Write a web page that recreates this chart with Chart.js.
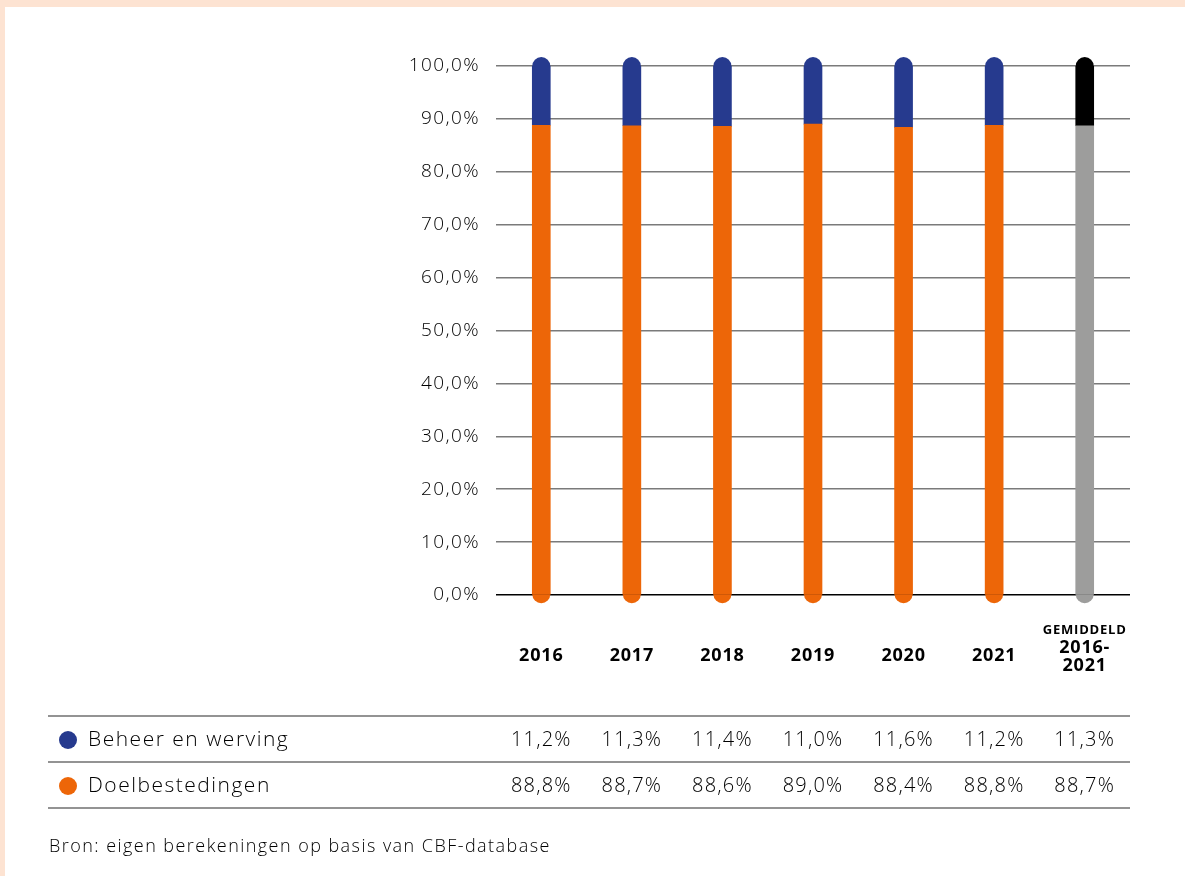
<!DOCTYPE html>
<html lang="nl">
<head>
<meta charset="utf-8">
<title>Beheer en werving vs doelbestedingen</title>
<script src="https://cdn.jsdelivr.net/npm/chart.js@4.4.1/dist/chart.umd.min.js"></script>
<style>
  html, body { margin: 0; padding: 0; }
  body { width: 1185px; height: 876px; background: #fde3d2; overflow: hidden; position: relative; }
  #panel { position: absolute; left: 5px; top: 7px; right: 0; bottom: 0; background: #fff; }
  #wrap { position: absolute; left: 0; top: 0; width: 1185px; height: 876px; }
</style>
</head>
<body>
<div id="panel"></div>
<div id="wrap"><canvas id="chart"></canvas></div>
<script>
// kolommen (jaren + gemiddelde)
const categories = ['2016', '2017', '2018', '2019', '2020', '2021', 'Gemiddeld 2016-2021'];
const xLabelLines = [['2016'], ['2017'], ['2018'], ['2019'], ['2020'], ['2021'], ['2016-', '2021']];
const avgCaption = 'GEMIDDELD';

// percentages per reeks
const seriesNames = ['Beheer en werving', 'Doelbestedingen'];
const beheer = [11.2, 11.3, 11.4, 11.0, 11.6, 11.2, 11.3];
const doel = [88.8, 88.7, 88.6, 89.0, 88.4, 88.8, 88.7];

const yTicks = [0, 10, 20, 30, 40, 50, 60, 70, 80, 90, 100];
const sourceNote = 'Bron: eigen berekeningen op basis van CBF-database';

const BLUE = '#263a8e';
const ORANGE = '#ed6608';
const FONT = '"Open Sans", sans-serif';

const pct = v => v.toFixed(1).replace('.', ',') + '%';

// brede letters: wat extra spatiëring voor alle tekst
const spacingPlugin = {
  id: 'spacing',
  beforeDraw(chart) { chart.ctx.letterSpacing = '1.4px'; }
};

// afgeronde uiteinden boven en onder de staven
const capPlugin = {
  id: 'caps',
  afterDatasetsDraw(chart) {
    const ctx = chart.ctx;
    const low = chart.getDatasetMeta(0).data;
    const high = chart.getDatasetMeta(1).data;
    ctx.save();
    low.forEach((bar, i) => {
      ctx.fillStyle = chart.data.datasets[0].backgroundColor[i];
      ctx.beginPath();
      ctx.arc(bar.x, bar.base, bar.width / 2, 0, Math.PI);
      ctx.fill();
    });
    high.forEach((bar, i) => {
      ctx.fillStyle = chart.data.datasets[1].backgroundColor[i];
      ctx.beginPath();
      ctx.arc(bar.x, bar.y, bar.width / 2, Math.PI, 2 * Math.PI);
      ctx.fill();
    });
    ctx.restore();
  }
};

// x-labels, tabel met waarden en bronvermelding
const tablePlugin = {
  id: 'table',
  afterDraw(chart) {
    const ctx = chart.ctx;
    const xs = chart.scales.x;
    const right = chart.chartArea.right;
    ctx.save();
    ctx.fillStyle = '#000';
    ctx.textAlign = 'center';
    ctx.textBaseline = 'middle';

    ctx.letterSpacing = '0.8px';
    xLabelLines.forEach((lines, i) => {
      const x = xs.getPixelForValue(i);
      if (lines.length === 1) {
        ctx.font = 'bold 18px ' + FONT;
        ctx.fillText(lines[0], x, 656);
      } else {
        ctx.font = 'bold 13px ' + FONT;
        ctx.fillText(avgCaption, x, 630);
        ctx.font = 'bold 18px ' + FONT;
        ctx.fillText(lines[0], x, 648);
        ctx.fillText(lines[1], x, 666);
      }
    });

    // lijnen van de tabel
    ctx.strokeStyle = '#6f6f6f';
    ctx.lineWidth = 1.5;
    [716, 762, 808].forEach(y => {
      ctx.beginPath();
      ctx.moveTo(48, y);
      ctx.lineTo(right, y);
      ctx.stroke();
    });

    const rows = [beheer, doel];
    const colors = [BLUE, ORANGE];
    const rowY = [740, 786];
    rows.forEach((vals, r) => {
      const y = rowY[r];
      ctx.fillStyle = colors[r];
      ctx.beginPath();
      ctx.arc(68, y, 9, 0, 2 * Math.PI);
      ctx.fill();
      ctx.fillStyle = '#000';
      ctx.font = '300 21px ' + FONT;
      ctx.letterSpacing = '1.5px';
      ctx.textAlign = 'left';
      ctx.fillText(seriesNames[r], 88, y);
      ctx.textAlign = 'center';
      ctx.font = '300 20px ' + FONT;
      ctx.letterSpacing = '1.2px';
      vals.forEach((v, i) => ctx.fillText(pct(v), xs.getPixelForValue(i), y));
    });

    ctx.textAlign = 'left';
    ctx.font = '300 18px ' + FONT;
    ctx.letterSpacing = '1.45px';
    ctx.fillText(sourceNote, 49, 847);
    ctx.restore();
  }
};

new Chart(document.getElementById('chart'), {
  type: 'bar',
  data: {
    labels: categories,
    datasets: [
      {
        label: seriesNames[1],
        data: doel,
        backgroundColor: doel.map((_, i) => i === doel.length - 1 ? '#9d9d9c' : ORANGE),
        barThickness: 18,
        borderSkipped: false
      },
      {
        label: seriesNames[0],
        data: beheer,
        backgroundColor: beheer.map((_, i) => i === beheer.length - 1 ? '#000000' : BLUE),
        barThickness: 18,
        borderSkipped: false
      }
    ]
  },
  options: {
    responsive: true,
    maintainAspectRatio: false,
    animation: false,
    layout: { padding: { left: 0, top: 66, right: 55, bottom: 281 } },
    plugins: { legend: { display: false }, tooltip: { enabled: false } },
    scales: {
      x: { stacked: true, display: false },
      y: {
        stacked: true,
        min: 0,
        max: 100,
        afterFit(scale) { scale.width = 496; },
        afterBuildTicks(scale) { scale.ticks = yTicks.map(v => ({ value: v })); },
        border: { display: false },
        grid: {
          drawTicks: false,
          lineWidth: 1.5,
          color: c => c.tick && c.tick.value === 0 ? '#000000' : '#7a7a7a'
        },
        ticks: {
          padding: 16,
          color: '#000',
          font: { family: FONT, size: 19, weight: '300' },
          callback: v => pct(v)
        }
      }
    }
  },
  plugins: [spacingPlugin, capPlugin, tablePlugin]
});
</script>
</body>
</html>
